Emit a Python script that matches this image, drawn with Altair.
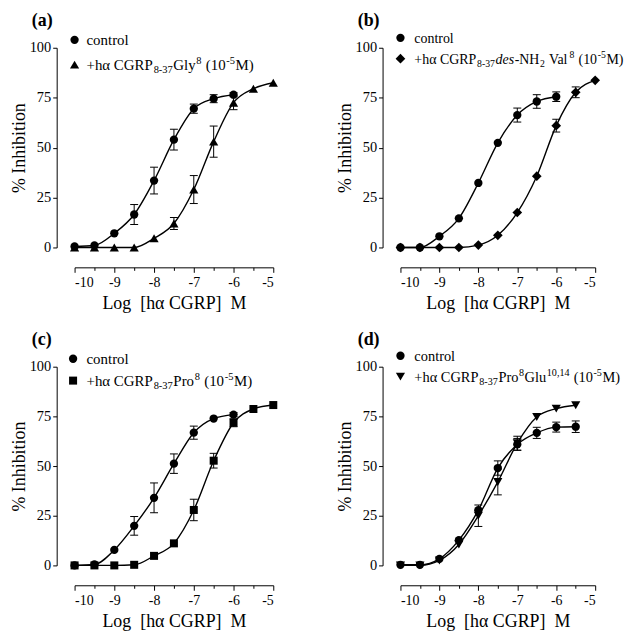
import altair as alt
import pandas as pd

FONT = "Liberation Serif"

# log concentrations
X = [-10, -9.5, -9, -8.5, -8, -7.5, -7, -6.5, -6, -5.5, -5]

# panel (a)
a_ctrl = [0.5, 1.0, 7.1, 16.5, 33.5, 54.0, 69.5, 74.5, 76.5]
a_ctrl_err = [0, 0, 0, 5.0, 6.7, 5.2, 2.3, 2.0, 1.0]
a_ant = [0, 0, 0, 0, 4.6, 12.0, 29.0, 53.0, 72.5, 79.5, 82.5]
a_ant_err = [0, 0, 0, 0, 0, 3.0, 7.0, 7.8, 3.5, 0, 0]

# panel (b)
b_ctrl = [0, 0, 5.6, 14.6, 32.3, 52.4, 66.3, 73.1, 75.5]
b_ctrl_err = [0, 0, 0, 0, 0, 0, 3.5, 3.4, 2.4]
b_ant = [0, 0, 0, 0, 1.2, 6.1, 17.5, 35.7, 61.0, 77.7, 83.7]
b_ant_err = [0, 0, 0, 0, 0, 0, 0, 0, 3.2, 2.7, 0]

# panel (c)
c_ctrl = [0, 0.5, 7.8, 19.9, 34.0, 51.2, 66.8, 73.9, 75.9]
c_ctrl_err = [0, 0, 0, 4.7, 7.5, 4.9, 3.3, 0, 1.0]
c_ant = [0, 0, 0, 0.3, 4.8, 11.1, 27.9, 52.7, 71.8, 78.7, 80.7]
c_ant_err = [0, 0, 0, 0, 0, 0, 5.4, 3.7, 2.0, 0, 0]

# panel (d)
d_ctrl = [0.3, 0.3, 3.3, 12.7, 27.8, 49.0, 60.9, 66.7, 69.6, 69.8]
d_ctrl_err = [0, 0, 0, 0, 0, 3.6, 3.0, 2.8, 2.5, 2.9]
d_ant = [0, 0, 2.5, 10.5, 25.0, 42.0, 61.5, 74.7, 78.9, 80.6]
d_ant_err = [0, 0, 0, 0, 5.4, 6.5, 3.5, 0, 0, 0]

LEG_A = [("+hα CGRP", "n"), ("8-37", "sub"), ("Gly", "n"), ("8", "sup"),
         (" (10", "n"), ("-5", "sup"), ("M)", "n")]
LEG_B = [("+hα CGRP", "n"), ("8-37", "sub"), ("des", "it"), ("-NH", "n"), ("2", "sub"),
         (" Val", "n"), ("8", "sup"), (" (10", "n"), ("-5", "sup"), ("M)", "n")]
LEG_C = [("+hα CGRP", "n"), ("8-37", "sub"), ("Pro", "n"), ("8", "sup"),
         (" (10", "n"), ("-5", "sup"), ("M)", "n")]
LEG_D = [("+hα CGRP", "n"), ("8-37", "sub"), ("Pro", "n"), ("8", "sup"), ("Glu", "n"),
         ("10,14", "sup"), (" (10", "n"), ("-5", "sup"), ("M)", "n")]

# approximate Times advance widths (per 1000 em) for text layout
WID = {' ': 250, '+': 564, '(': 333, ')': 333, '-': 333, ',': 250,
       'C': 667, 'G': 722, 'R': 667, 'P': 556, 'M': 889, 'N': 722, 'H': 722, 'V': 722,
       'a': 444, 'd': 500, 'e': 444, 'h': 500, 'l': 278, 'n': 500, 'o': 500,
       'r': 333, 's': 389, 'u': 500, 'y': 500, 'α': 540}


def twidth(s, size):
    return sum(WID.get(ch, 500) for ch in s) * size / 1000.0


ONE = pd.DataFrame({"k": [0]})

xaxis = alt.Axis(values=X, offset=20,
                 tickSize={"condition": {"test": "datum.value % 1 != 0", "value": 3}, "value": 5},
                 labelExpr="datum.value % 1 != 0 ? '' : toString(datum.value)",
                 labelPadding=3, labelFontSize=14, titleFontSize=18, titlePadding=5,
                 title="Log\u00a0\u00a0[hα CGRP]\u00a0\u00a0M", grid=False)
yaxis = alt.Axis(values=[0, 25, 50, 75, 100], offset=18, tickSize=4, labelPadding=2,
                 labelFontSize=14.5, titleFontSize=18, titlePadding=1,
                 title="% Inhibition", grid=False)


def legend_layers(segs, x0, yline, size):
    layers = []
    x = x0
    for text, kind in segs:
        fs = size if kind in ("n", "it") else size * 0.7
        stripped = text.lstrip(" ")
        x += twidth(text[: len(text) - len(stripped)], size)
        if kind == "sub":
            yb = yline + 5 + 3
        elif kind == "sup":
            yb = yline + 5 - 6
        else:
            yb = yline + 5
        props = dict(align="left", baseline="alphabetic", font=FONT, fontSize=fs,
                     color="black", text=stripped)
        if kind == "it":
            props["fontStyle"] = "italic"
        layers.append(alt.Chart(ONE).mark_text(**props).encode(
            x=alt.value(x), y=alt.value(yb)))
        x += twidth(stripped, fs) + 0.6
    return layers


def panel(label, ctrl, ctrl_err, ant, ant_err, shape, shape_size, segs,
          w, h, mx, y1, y2, tx, lsize):
    rows = []
    for i, v in enumerate(ctrl):
        rows.append(dict(x=X[i], y=v, err=ctrl_err[i], s="control"))
    for i, v in enumerate(ant):
        rows.append(dict(x=X[i], y=v, err=ant_err[i], s="ant"))
    df = pd.DataFrame(rows)
    df["lo"] = df["y"] - df["err"]
    df["hi"] = df["y"] + df["err"]

    xs = alt.Scale(domain=[-10, -5], nice=False, zero=False)
    ys = alt.Scale(domain=[0, 100], nice=False)
    xe = alt.X("x:Q", scale=xs, axis=xaxis)
    base = alt.Chart(df)

    line = base.mark_line(color="black", strokeWidth=1.4, interpolate="monotone").encode(
        x=xe, y=alt.Y("y:Q", scale=ys, axis=yaxis), detail="s:N")
    eb = base.transform_filter("datum.err > 0")
    bar = eb.mark_rule(color="black", strokeWidth=1).encode(
        x=xe, y=alt.Y("lo:Q", scale=ys, axis=yaxis), y2="hi:Q")
    cap_lo = eb.mark_rule(color="black", strokeWidth=1, xOffset=-4, x2Offset=4).encode(
        x=xe, x2="x:Q", y=alt.Y("lo:Q", scale=ys, axis=yaxis))
    cap_hi = eb.mark_rule(color="black", strokeWidth=1, xOffset=-4, x2Offset=4).encode(
        x=xe, x2="x:Q", y=alt.Y("hi:Q", scale=ys, axis=yaxis))
    c_pts = base.transform_filter("datum.s == 'control'").mark_point(
        shape="circle", filled=True, opacity=1, color="black", size=70).encode(
        x=xe, y=alt.Y("y:Q", scale=ys, axis=yaxis))
    a_pts = base.transform_filter("datum.s == 'ant'").mark_point(
        shape=shape, filled=True, opacity=1, color="black", size=shape_size).encode(
        x=xe, y=alt.Y("y:Q", scale=ys, axis=yaxis))

    lab = alt.Chart(ONE).mark_text(text=label, align="left", baseline="alphabetic",
                                   font=FONT, fontSize=18, fontWeight="bold",
                                   color="black").encode(x=alt.value(-43), y=alt.value(-22))
    m1 = alt.Chart(ONE).mark_point(shape="circle", filled=True, opacity=1, color="black",
                                   size=70).encode(x=alt.value(mx), y=alt.value(y1))
    m2 = alt.Chart(ONE).mark_point(shape=shape, filled=True, opacity=1, color="black",
                                   size=shape_size).encode(x=alt.value(mx), y=alt.value(y2))
    t1 = alt.Chart(ONE).mark_text(text="control", align="left", baseline="alphabetic",
                                  font=FONT, fontSize=lsize, color="black").encode(
        x=alt.value(tx), y=alt.value(y1 + 5))
    legs = legend_layers(segs, tx, y2, lsize)

    return alt.layer(line, bar, cap_lo, cap_hi, c_pts, a_pts, lab, m1, m2, t1, *legs).properties(
        width=w, height=h)


pa = panel("(a)", a_ctrl, a_ctrl_err, a_ant, a_ant_err, "triangle-up", 85, LEG_A,
           200, 201, 0, -8, 17, 12, 15)
pb = panel("(b)", b_ctrl, b_ctrl_err, b_ant, b_ant_err, "diamond", 95, LEG_B,
           196, 201, 0, -10, 11, 14, 14)
pc = panel("(c)", c_ctrl, c_ctrl_err, c_ant, c_ant_err, "square", 65, LEG_C,
           200, 200, -1.5, -8, 14, 12, 15)
pd_ = panel("(d)", d_ctrl, d_ctrl_err, d_ant, d_ant_err, "triangle-down", 85, LEG_D,
            196, 200, 0, -11, 10, 14, 14.5)

chart = alt.concat(pa, pb, pc, pd_, columns=2, spacing={"row": 120, "column": 128},
                   bounds="flush").properties(
    padding={"left": 2, "top": 2, "right": 0, "bottom": 0},
    background="white",
).configure_view(stroke=None).configure_axis(
    labelFont=FONT, titleFont=FONT, titleFontWeight="normal",
    domainColor="black", tickColor="black", labelColor="black", titleColor="black",
    domainWidth=1, tickWidth=1,
)

chart.save("out.html", embed_options={"renderer": "svg", "actions": False})
